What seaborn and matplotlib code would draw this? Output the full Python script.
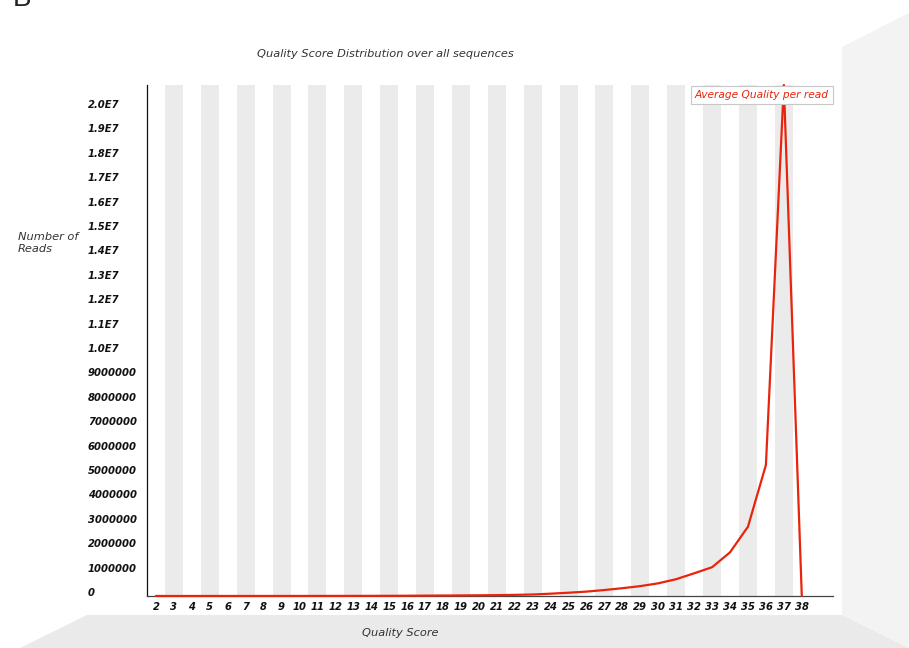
import matplotlib
matplotlib.use("Agg")
import matplotlib.pyplot as plt
from matplotlib.patches import Polygon
import seaborn as sns
import pandas as pd

# Per-sequence mean quality: number of reads for each average Phred score
quality = list(range(2, 39))
reads = [
    1200, 300, 500, 700, 900, 1100, 1400, 1800, 2300, 2900,
    3700, 4800, 6200, 8100, 10500, 16000, 20000, 24000, 29000, 36000,
    46000, 62000, 95000, 135000, 180000, 245000, 320000, 405000, 520000, 690000,
    930000, 1180000, 1790000, 2840000, 5370000, 20940000, 2000,
]
y_ticks = [i * 1_000_000 for i in range(0, 21)]
y_tick_labels = (
    ["0"] + [f"{i}000000" for i in range(1, 10)]
    + [f"{i / 10:.1f}E7" for i in range(10, 21)]
)
series_name = "Average Quality per read"

W, H = 909, 648
RED = "#e8250c"
STRIPE = "#ebebeb"

sns.set_style("white")
plt.rcParams["font.family"] = ["DejaVu Sans"]

fig = plt.figure(figsize=(W / 100, H / 100), dpi=100)
fig.patch.set_facecolor("white")

# Backdrop: floor and right-hand wall
floor = Polygon([(87 / W, 1 - 615 / H), (842 / W, 1 - 615 / H), (909 / W, 0),
                 (20 / W, 0)], closed=True, transform=fig.transFigure,
                facecolor="#eaeaea", edgecolor="none", zorder=0)
wall = Polygon([(842 / W, 1 - 47 / H), (1, 1 - 13 / H), (1, 0),
                (842 / W, 1 - 615 / H)], closed=True, transform=fig.transFigure,
               facecolor="#f3f3f3", edgecolor="none", zorder=0)
fig.add_artist(floor)
fig.add_artist(wall)

ax = fig.add_axes([147 / W, 52 / H, 686 / W, 511 / H])
ax.set_facecolor("white")

df = pd.DataFrame({"Quality": quality, "Reads": reads})

# Alternating shaded columns behind the odd scores
for q in quality:
    if q % 2 == 1:
        ax.axvspan(q - 0.5, q + 0.5, color=STRIPE, lw=0, zorder=0)

sns.lineplot(data=df, x="Quality", y="Reads", ax=ax, color=RED, lw=1.6,
             label=series_name, zorder=3, clip_on=False)

ax.set_xlim(1.5, 39.74)
ax.set_ylim(0, max(reads))

ax.set_xticks(quality)
ax.set_xticklabels([str(q) for q in quality], fontsize=7.2, fontweight="bold",
                   fontstyle="italic", color="#111111")
ax.set_yticks(y_ticks)
ax.set_yticklabels(y_tick_labels, fontsize=7.2, fontweight="bold",
                   fontstyle="italic", color="#111111")
ax.tick_params(axis="y", length=0, pad=42.5)
ax.tick_params(axis="x", length=0, pad=4.0)
for lab in ax.get_yticklabels():
    lab.set_horizontalalignment("left")
    lab.set_verticalalignment("baseline")

ax.set_xlabel("")
ax.set_ylabel("")
for side in ("top", "right"):
    ax.spines[side].set_visible(False)
ax.spines["left"].set_color("#111111")
ax.spines["left"].set_linewidth(0.9)
ax.spines["bottom"].set_color("#444444")
ax.spines["bottom"].set_linewidth(0.9)
ax.grid(False)

leg = ax.legend(loc="upper right", bbox_to_anchor=(1.0, 0.998),
                borderaxespad=0, handlelength=0, handletextpad=0,
                fancybox=False, framealpha=1, edgecolor="#c8c8c8",
                borderpad=0.38, prop={"size": 7.7, "style": "italic"},
                labelcolor=RED)
for h in leg.legend_handles:
    h.set_visible(False)
leg.get_frame().set_linewidth(0.8)
leg.set_zorder(5)

txt = dict(fontsize=8.2, fontstyle="italic", color="#333333")
fig.text(385 / W, 1 - 54 / H, "Quality Score Distribution over all sequences",
         ha="center", va="center", **txt)
fig.text(18 / W, 1 - 243 / H, "Number of\nReads", ha="left", va="center",
         linespacing=1.15, **txt)
fig.text(400 / W, 1 - 633 / H, "Quality Score", ha="center", va="center", **txt)
fig.text(13 / W, 1 - 6 / H, "B", ha="left", va="baseline", fontsize=20,
         family=["Liberation Sans", "DejaVu Sans"], color="#222222")

fig.savefig("out.png", dpi=100)
